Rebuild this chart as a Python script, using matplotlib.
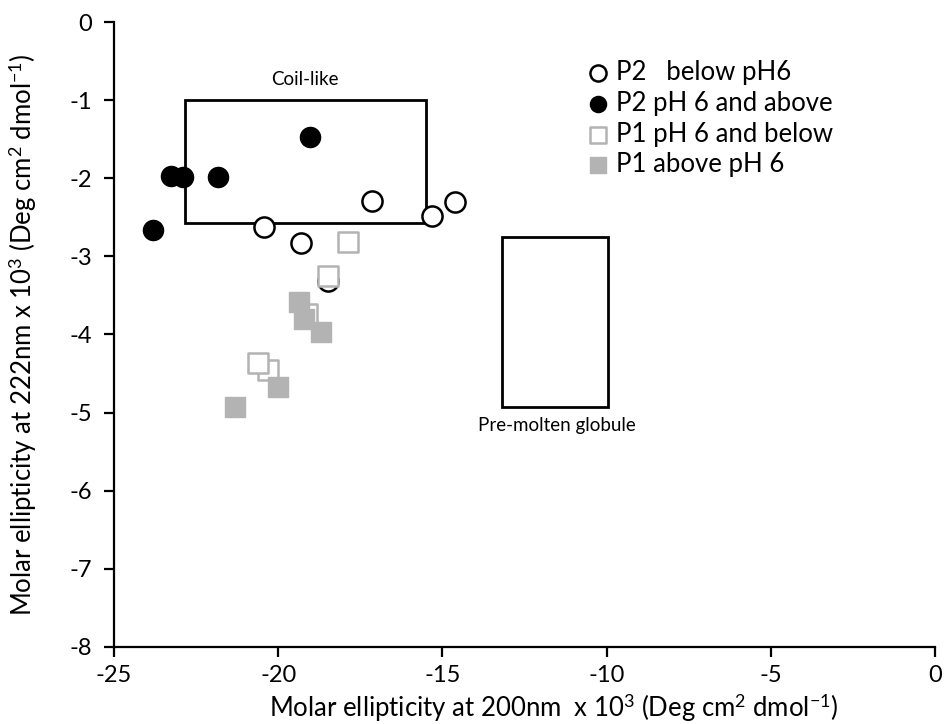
import matplotlib
matplotlib.use("Agg")
import matplotlib.pyplot as plt
from matplotlib.patches import Rectangle

plt.rcParams['font.family'] = ['Lato', 'DejaVu Sans']
plt.rcParams['axes.unicode_minus'] = False
plt.rcParams['mathtext.fontset'] = 'custom'
plt.rcParams['mathtext.rm'] = 'Lato'
plt.rcParams['mathtext.it'] = 'Lato:italic'
plt.rcParams['mathtext.bf'] = 'Lato:bold'

# Data
p2_below_x = [-20.43, -19.31, -17.15, -15.31, -14.62, -18.48]
p2_below_y = [-2.62, -2.83, -2.29, -2.48, -2.31, -3.32]
p2_above_x = [-23.81, -22.9, -23.26, -21.83, -19.03]
p2_above_y = [-2.66, -1.99, -1.97, -1.98, -1.47]
p1_below_x = [-17.89, -18.47, -20.30, -20.62, -19.12]
p1_below_y = [-2.82, -3.25, -4.45, -4.36, -3.74]
p1_above_x = [-19.21, -19.36, -18.71, -20.02, -21.31]
p1_above_y = [-3.80, -3.58, -3.97, -4.67, -4.93]

labels = ["P2   below pH6", "P2 pH 6 and above", "P1 pH 6 and below", "P1 above pH 6"]

coil_box = (-22.85, -2.57, 7.35, 1.57)  # x, y, width, height
globule_box = (-13.2, -4.93, 3.25, 2.18)

gray = '#b3b3b3'

fig = plt.figure(figsize=(9.44, 7.24), dpi=100)
ax = fig.add_axes([0.1208, 0.1064, 0.8697, 0.8632])

ax.add_patch(Rectangle(coil_box[:2], coil_box[2], coil_box[3], fill=False, lw=2.0, ec='black', zorder=2))
ax.add_patch(Rectangle(globule_box[:2], globule_box[2], globule_box[3], fill=False, lw=2.0, ec='black', zorder=2))

ms = 210
ax.scatter(p2_below_x, p2_below_y, s=ms, marker='o', facecolor='white', edgecolor='black', linewidth=1.8, label=labels[0], zorder=3)
ax.scatter(p2_above_x, p2_above_y, s=ms, marker='o', facecolor='black', edgecolor='black', linewidth=1.0, label=labels[1], zorder=3)
ax.scatter(p1_below_x, p1_below_y, s=ms, marker='s', facecolor='white', edgecolor=gray, linewidth=1.8, label=labels[2], zorder=4)
ax.scatter(p1_above_x, p1_above_y, s=ms, marker='s', facecolor=gray, edgecolor=gray, linewidth=1.0, label=labels[3], zorder=5)

ax.text(-19.18, -0.74, "Coil-like", ha='center', va='center', fontsize=13.5)
ax.text(-11.5, -5.16, "Pre-molten globule", ha='center', va='center', fontsize=13.5)

ax.set_xlim(-25, 0)
ax.set_ylim(-8, 0)
ax.set_xticks([-25, -20, -15, -10, -5, 0])
ax.set_yticks(range(-8, 1))
ax.spines['top'].set_visible(False)
ax.spines['right'].set_visible(False)
for s in ['left', 'bottom']:
    ax.spines[s].set_linewidth(1.6)
ax.tick_params(axis='both', direction='out', length=7, width=1.6, labelsize=17)
ax.tick_params(axis='x', pad=6)
ax.tick_params(axis='y', pad=9)

ax.set_xlabel("Molar ellipticity at 200nm  x 10$^3$ (Deg cm$^2$ dmol$^{-1}$)", fontsize=18.5)
ax.set_ylabel("Molar ellipticity at 222nm x 10$^3$ (Deg cm$^2$ dmol$^{-1}$)", fontsize=18.5)
ax.xaxis.set_label_coords(0.535, -0.0976, transform=ax.transAxes)
ax.yaxis.set_label_coords(-0.111, 0.5, transform=ax.transAxes)
ax.xaxis.label.set_va('center')
ax.yaxis.label.set_va('center')

leg = fig.legend(loc='upper left', bbox_to_anchor=(0.612, 0.931), frameon=False, fontsize=18.5,
                 handletextpad=0.3, labelspacing=0.22, markerscale=0.8, borderaxespad=0, handlelength=0.8)

fig.savefig("out.png", dpi=100)
